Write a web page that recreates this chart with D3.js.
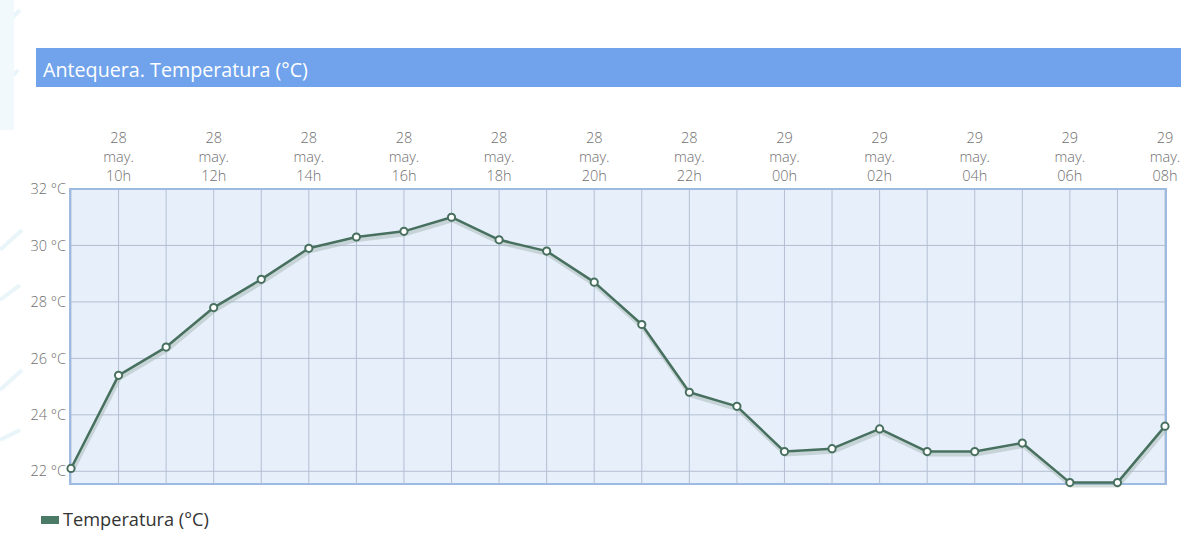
<!DOCTYPE html>
<html><head><meta charset="utf-8">
<script src="https://cdn.jsdelivr.net/npm/d3@7/dist/d3.min.js"></script>
<style>
html,body{margin:0;padding:0;background:#fff;}
svg{display:block;font-family:"Open Sans",sans-serif;}
</style></head>
<body><svg id="c" width="1200" height="538"></svg>
<script>
const title = "Antequera. Temperatura (°C)";
const seriesName = "Temperatura (°C)";
const days = ["28","28","28","28","28","28","28","28","28","28","28","28","28","28","28","29","29","29","29","29","29","29","29","29"];
const hours = ["09h","10h","11h","12h","13h","14h","15h","16h","17h","18h","19h","20h","21h","22h","23h","00h","01h","02h","03h","04h","05h","06h","07h","08h"];
const temps = [22.1,25.4,26.4,27.8,28.8,29.9,30.3,30.5,31.0,30.2,29.8,28.7,27.2,24.8,24.3,22.7,22.8,23.5,22.7,22.7,23.0,21.6,21.6,23.6];
const yTicks = [22,24,26,28,30,32];
const monthLabel = "may.";

const svg = d3.select("#c");
// faint background decoration at left edge
const deco = svg.append("g").attr("opacity",0.5);
[[0,30,20,10],[0,90,18,70],[0,250,22,230],[0,300,20,285],[0,390,22,370],[0,440,20,430]].forEach(d=>{
  deco.append("line").attr("x1",d[0]).attr("y1",d[1]).attr("x2",d[2]).attr("y2",d[3]).attr("stroke","#d6ecf7").attr("stroke-width",4);
});
deco.append("rect").attr("x",0).attr("y",0).attr("width",14).attr("height",130).attr("fill","#e6f4fb");

// title bar
svg.append("rect").attr("x",36).attr("y",48).attr("width",1145).attr("height",39).attr("fill","#70a3ec");
svg.append("text").attr("x",43).attr("y",77).attr("fill","#fff").attr("font-size",19.7).text(title);

const L=71, R=1165, T=189, B=484;
const x = d3.scaleLinear().domain([0, temps.length-1]).range([L,R]);
const y = d3.scaleLinear().domain([21.55,32]).range([B,T]);

svg.append("rect").attr("x",L).attr("y",T).attr("width",R-L).attr("height",B-T).attr("fill","#e7effb");

const grid = svg.append("g");
grid.selectAll("line.v").data(d3.range(temps.length)).join("line")
  .attr("x1",d=>x(d)).attr("x2",d=>x(d)).attr("y1",T).attr("y2",B)
  .attr("stroke","#b3bfd2").attr("stroke-width",1);
grid.selectAll("line.h").data(yTicks).join("line")
  .attr("x1",L).attr("x2",R).attr("y1",d=>y(d)).attr("y2",d=>y(d))
  .attr("stroke","#b3bfd2").attr("stroke-width",1);

svg.append("rect").attr("x",L-1).attr("y",T).attr("width",R-L+2).attr("height",B-T)
  .attr("fill","none").attr("stroke","#9dbbe0").attr("stroke-width",2);

// y axis labels
const yAxis = d3.axisLeft(y).tickValues(yTicks).tickSize(0).tickPadding(4).tickFormat(d=>d+" °C");
const ga = svg.append("g").attr("transform",`translate(${L-1},0)`).call(yAxis);
ga.select(".domain").remove();
ga.selectAll("text").attr("fill","#6f6f6f").attr("font-size",14.5).attr("font-weight",300).attr("font-family","Open Sans, sans-serif");

// x labels
const xl = svg.append("g");
const idx = d3.range(1,temps.length,2);
idx.forEach(i=>{
  const t = xl.append("text").attr("x",x(i)).attr("text-anchor","middle").attr("fill","#6f6f6f").attr("font-size",14.5).attr("font-weight",300);
  t.append("tspan").attr("x",x(i)).attr("y",143).text(days[i]);
  t.append("tspan").attr("x",x(i)).attr("y",162).text(monthLabel);
  t.append("tspan").attr("x",x(i)).attr("y",181).text(hours[i]);
});

// line with shadow
const line = d3.line().x((d,i)=>x(i)).y(d=>y(d));
svg.append("path").datum(temps).attr("d",line).attr("fill","none")
  .attr("stroke","#9fb3aa").attr("stroke-opacity",0.45).attr("stroke-width",4)
  .attr("transform","translate(1,3)");
svg.append("path").datum(temps).attr("d",line).attr("fill","none")
  .attr("stroke","#48705f").attr("stroke-width",2.5).attr("stroke-linejoin","round");
svg.selectAll("circle.p").data(temps).join("circle")
  .attr("cx",(d,i)=>x(i)).attr("cy",d=>y(d)).attr("r",3.6)
  .attr("fill","#fff").attr("stroke","#48705f").attr("stroke-width",2);

// legend
svg.append("rect").attr("x",41).attr("y",516).attr("width",18).attr("height",8).attr("fill","#4b7a66");
svg.append("text").attr("x",63).attr("y",526).attr("fill","#333").attr("font-size",18.2).text(seriesName);
</script></body></html>
